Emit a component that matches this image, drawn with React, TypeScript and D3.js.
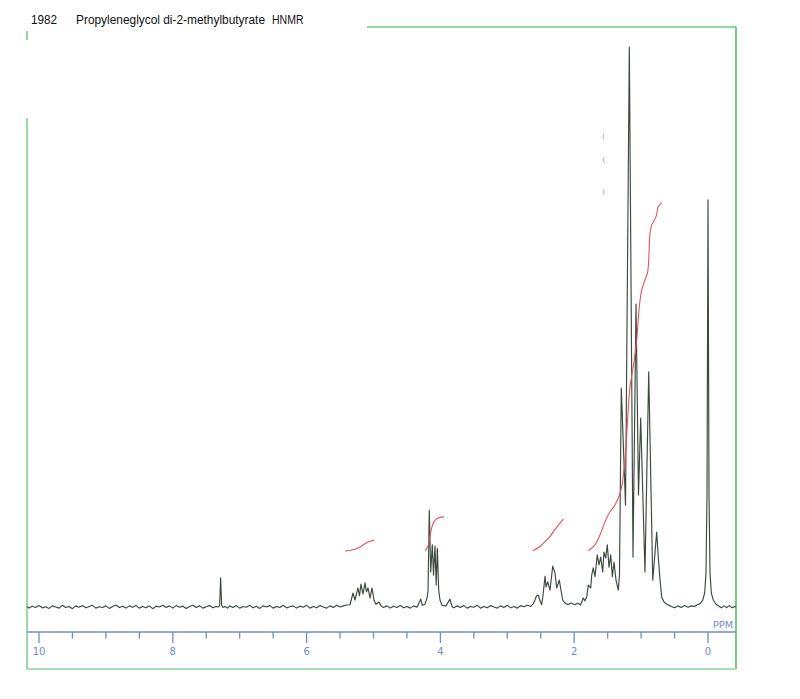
import React from 'react';
import * as d3 from 'd3';

// chemical shift (ppm) / relative intensity pairs
const spectrum: [number, number][] = [
  [10.18, 0.1], [10.15, -0.2], [10.1, 0.15], [10.05, -0.1], [10.0, 0.25], [9.95, -0.15], [9.9, 0.05],
  [9.85, -0.25], [9.8, 0.2], [9.75, 0.0], [9.7, -0.2], [9.65, 0.3], [9.6, -0.1], [9.55, 0.1], [9.5, -0.3],
  [9.45, 0.2], [9.4, -0.05], [9.35, 0.25], [9.3, -0.15], [9.25, 0.1], [9.2, 0.3], [9.15, -0.2], [9.1, 0.05],
  [9.05, -0.1], [9.0, 0.2], [8.95, -0.25], [8.9, 0.1], [8.85, 0.35], [8.8, -0.1], [8.75, 0.15], [8.7, -0.2],
  [8.65, 0.2], [8.6, -0.05], [8.55, 0.25], [8.5, -0.2], [8.45, 0.1], [8.4, -0.15], [8.35, 0.2], [8.3, -0.3],
  [8.25, 0.15], [8.2, 0.0], [8.15, 0.3], [8.1, -0.1], [8.05, 0.2], [8.0, -0.2], [7.95, 0.25], [7.9, -0.05],
  [7.85, 0.15], [7.8, -0.25], [7.75, 0.1], [7.7, 0.3], [7.65, -0.1], [7.6, 0.2], [7.55, -0.2], [7.5, 0.05],
  [7.45, 0.25], [7.4, -0.15], [7.35, 0.1], [7.32, 0.0],
  [7.3, 0.2], [7.285, 5.2], [7.27, 0.3], [7.25, -0.1],
  [7.22, 0.1], [7.18, -0.2], [7.15, 0.2], [7.1, -0.1], [7.05, 0.25], [7.0, -0.2], [6.95, 0.1], [6.9, -0.05],
  [6.85, 0.3], [6.8, -0.15], [6.75, 0.15], [6.7, -0.25], [6.65, 0.2], [6.6, 0.0], [6.55, 0.25], [6.5, -0.2],
  [6.45, 0.1], [6.4, -0.1], [6.35, 0.3], [6.3, -0.15], [6.25, 0.05], [6.2, 0.2], [6.15, -0.2], [6.1, 0.15],
  [6.05, -0.05], [6.0, 0.3], [5.95, -0.2], [5.9, 0.1], [5.85, -0.15], [5.8, 0.25], [5.75, 0.0], [5.7, -0.2],
  [5.65, 0.2], [5.6, -0.1], [5.55, 0.3], [5.5, 0.0], [5.45, 0.2], [5.4, 0.35],
  [5.351, 0.4], [5.306, 2.5], [5.277, 1.25], [5.232, 3.4], [5.209, 2.0], [5.187, 4.1], [5.157, 2.3],
  [5.127, 4.3], [5.105, 2.7], [5.082, 3.4], [5.052, 1.6], [5.022, 3.4], [4.993, 1.25], [4.963, 0.5],
  [4.918, 0.9], [4.888, 0.2],
  [4.85, -0.1], [4.8, 0.2], [4.75, -0.2], [4.7, 0.15], [4.65, -0.1], [4.6, 0.25], [4.55, -0.15], [4.5, 0.1],
  [4.45, -0.2], [4.4, 0.2], [4.35, -0.05],
  [4.294, 1.4], [4.27, 0.3], [4.23, 0.5], [4.196, 1.8], [4.185, 3.0], [4.166, 17.3], [4.145, 6.25],
  [4.121, 11.1], [4.103, 5.7], [4.081, 10.9], [4.063, 3.9], [4.046, 10.5], [4.025, 3.0], [4.006, 1.25],
  [3.976, 0.3], [3.916, 0.2], [3.857, 1.4], [3.827, 0.1],
  [3.8, -0.15], [3.75, 0.2], [3.7, -0.1], [3.65, 0.25], [3.6, -0.2], [3.55, 0.1], [3.5, -0.05], [3.45, 0.3],
  [3.4, -0.2], [3.35, 0.1], [3.3, -0.15], [3.25, 0.25], [3.2, 0.0], [3.15, -0.2], [3.1, 0.2], [3.05, -0.1],
  [3.0, 0.3], [2.95, -0.15], [2.9, 0.1], [2.85, -0.2], [2.8, 0.25], [2.75, 0.05], [2.7, 0.3], [2.65, 0.1],
  [2.616, 0.5], [2.586, 1.25], [2.563, 2.0], [2.537, 2.1], [2.511, 1.1], [2.486, 0.4], [2.466, 2.1],
  [2.436, 5.5], [2.421, 3.6], [2.396, 4.5], [2.362, 3.0], [2.321, 7.3], [2.287, 6.1], [2.262, 3.4],
  [2.223, 4.8], [2.172, 1.25], [2.137, 0.7], [2.093, 0.4], [2.048, 0.7], [1.988, 0.4], [1.943, 0.7],
  [1.906, 0.35], [1.864, 1.6], [1.839, 1.1], [1.813, 1.8], [1.789, 3.9], [1.753, 3.4], [1.738, 5.7],
  [1.715, 7.0], [1.689, 5.4], [1.655, 9.3], [1.629, 7.5], [1.604, 8.9], [1.574, 6.25], [1.555, 9.8],
  [1.529, 8.75], [1.505, 11.1], [1.48, 7.1], [1.454, 9.3], [1.43, 5.4], [1.405, 8.0], [1.375, 4.8],
  [1.341, 3.0], [1.323, 5.7], [1.296, 39.1], [1.233, 18.2], [1.176, 100], [1.121, 8.9], [1.076, 54.1],
  [1.039, 20.0], [1.006, 33.75], [0.942, 6.25], [0.886, 42.0], [0.826, 4.8], [0.767, 13.4], [0.74, 8.4],
  [0.717, 4.8], [0.692, 1.8], [0.658, 0.9], [0.617, 0.5], [0.568, 0.2],
  [0.55, 0.1], [0.5, -0.15], [0.45, 0.2], [0.4, -0.1], [0.35, 0.25], [0.3, -0.05], [0.25, 0.2], [0.2, 0.1],
  [0.16, 0.4],
  [0.12, 0.6], [0.08, 1.2], [0.05, 2.5], [0.03, 6], [0.015, 20], [0.0, 72.7], [-0.015, 20], [-0.03, 6],
  [-0.05, 2.5], [-0.08, 1.2], [-0.12, 0.5], [-0.17, 0.1],
  [-0.2, -0.15], [-0.24, 0.2], [-0.28, -0.1], [-0.32, 0.25], [-0.36, -0.15], [-0.4, 0.1], [-0.419, 0.0],
];

// integral traces (red)
const integral1: [number, number][] = [
  [5.426, 10.0], [5.351, 10.1], [5.277, 10.3], [5.202, 10.7], [5.142, 11.2], [5.082, 11.6], [5.037, 11.8], [4.993, 11.9],
];
const integral2: [number, number][] = [
  [4.23, 10.1], [4.185, 10.9], [4.155, 12.7], [4.126, 14.3], [4.096, 15.2], [4.051, 15.8], [4.006, 16.0], [3.946, 16.1],
];
const integral3: [number, number][] = [
  [2.62, 10.05], [2.511, 10.8], [2.436, 11.7], [2.362, 12.55], [2.312, 13.45], [2.238, 14.6], [2.163, 15.7],
];
const integral4: [number, number][] = [
  [1.789, 10.05], [1.689, 11.1], [1.614, 12.9], [1.54, 15.2], [1.465, 17.0], [1.39, 18.2], [1.315, 20.3],
  [1.29, 21.5], [1.241, 26.25], [1.166, 39.3], [1.117, 42.9], [1.066, 47.7], [1.027, 53.6], [0.991, 56.6],
  [0.942, 58.4], [0.901, 59.9], [0.867, 66.7], [0.842, 68.2], [0.777, 69.7], [0.743, 71.5], [0.692, 72.2],
];
const integrals = [integral1, integral2, integral3, integral4];

const tickValues = [10, 9.5, 9, 8.5, 8, 7.5, 7, 6.5, 6, 5.5, 5, 4.5, 4, 3.5, 3, 2.5, 2, 1.5, 1, 0.5, 0];
const tickLabels = ['10', '8', '6', '4', '2', '0'];

// faint scanner specks left on the page
const specks: [number, number][] = [[1.57, 84], [1.565, 79.8], [1.57, 74.1]];

const W = 800;
const H = 699;

export default function App() {
  const x = d3.scaleLinear().domain([10, 0]).range([39, 708]);
  const y = d3.scaleLinear().domain([0, 100]).range([607, 47]);

  const line = d3.line<[number, number]>()
    .x(d => x(d[0]))
    .y(d => y(d[1]));

  const smooth = d3.line<[number, number]>()
    .x(d => x(d[0]))
    .y(d => y(d[1]))
    .curve(d3.curveCatmullRom);

  const axisY = 632;
  const frame = { left: 27, right: 736, top: 27, bottom: 669 };
  const green = '#72c983';
  const blue = '#6f8cc6';

  return (
    <svg width={W} height={H} style={{ position: 'absolute', left: 0, top: 0, background: '#fff' }}>
      <rect x={0} y={0} width={W} height={H} fill="#fff" />

      {/* title */}
      <text x={31} y={24} fontFamily="'Liberation Sans', Arial, sans-serif" fontSize={12} fill="#111"
        textLength={26} lengthAdjust="spacingAndGlyphs">1982</text>
      <text x={76} y={24} fontFamily="'Liberation Sans', Arial, sans-serif" fontSize={12} fill="#111"
        textLength={189} lengthAdjust="spacingAndGlyphs">Propyleneglycol di-2-methylbutyrate</text>
      <text x={272} y={24} fontFamily="'Liberation Sans', Arial, sans-serif" fontSize={12} fill="#111"
        textLength={31.5} lengthAdjust="spacingAndGlyphs">HNMR</text>

      {/* frame (partly faded on the scan) */}
      <line x1={367} x2={frame.right} y1={frame.top} y2={frame.top} stroke={green} strokeWidth={1.3} />
      <line x1={frame.right} x2={frame.right} y1={frame.top} y2={frame.bottom} stroke="#3fb652" strokeWidth={1.4} />
      <line x1={frame.left} x2={frame.right} y1={frame.bottom} y2={frame.bottom} stroke="#8ed29b" strokeWidth={1.5} />
      <line x1={frame.left} x2={frame.left} y1={31} y2={40} stroke={green} strokeWidth={1.5} />
      <line x1={frame.left} x2={frame.left} y1={118} y2={frame.bottom} stroke={green} strokeWidth={1.4} />

      {/* ppm axis */}
      <line x1={frame.left} x2={frame.right} y1={axisY} y2={axisY} stroke={blue} strokeWidth={1.4} />
      {tickValues.map(t => {
        const major = t % 2 === 0;
        return (
          <line key={t} x1={x(t)} x2={x(t)} y1={axisY} y2={axisY + (major ? 11 : 6.5)}
            stroke={blue} strokeWidth={1.3} />
        );
      })}
      {tickLabels.map(l => (
        <text key={l} x={x(+l)} y={655} textAnchor="middle" fontSize={10}
          fontFamily="'DejaVu Sans', sans-serif" fill={blue}>{l}</text>
      ))}
      <text x={733} y={628} textAnchor="end" fontSize={9} fontFamily="'DejaVu Sans', sans-serif"
        fill={blue} textLength={20} lengthAdjust="spacingAndGlyphs">PPM</text>

      {/* spectrum */}
      <path d={line(spectrum) ?? ''} fill="none" stroke="#3b4a3d" strokeWidth={1.15} strokeLinejoin="round" />

      {/* integral curves */}
      {integrals.map((g, i) => (
        <path key={i} d={smooth(g) ?? ''} fill="none" stroke="#e8505e" strokeWidth={1.1} />
      ))}

      {specks.map((s, i) => (
        <path key={i} d={`M${x(s[0]) + 1},${y(s[1]) - 3} q-2,3 0,6`} fill="none" stroke="#bbb" strokeWidth={1} />
      ))}
    </svg>
  );
}
